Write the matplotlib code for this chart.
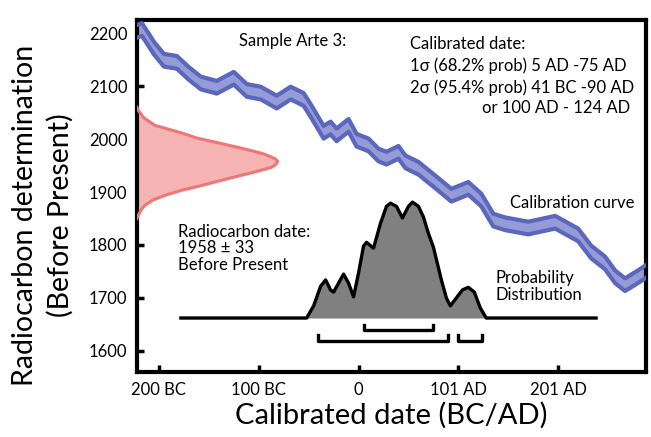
import numpy as np
import matplotlib
matplotlib.use("Agg")
import matplotlib.pyplot as plt

plt.rcParams['font.family'] = ['Lato', 'DejaVu Sans']

# calibration curve (calendar year, BP)
calib_x = [-223, -217, -205, -195, -182, -170, -158, -142, -125, -112, -98, -82,
           -68, -55, -47, -35, -28, -22, -10, -2, 10, 20, 28, 40, 47, 60, 77, 93,
           110, 123, 135, 147, 170, 197, 220, 233, 247, 257, 267, 280, 288]
calib_y = [2203, 2207, 2172, 2149, 2145, 2124, 2106, 2098, 2115, 2092, 2087, 2070,
           2087, 2075, 2051, 2013, 2021, 2008, 2026, 1998, 1989, 1970, 1964, 1975,
           1957, 1945, 1919, 1894, 1907, 1885, 1847, 1840, 1832, 1843, 1819, 1787,
           1766, 1740, 1725, 1740, 1750]
calib_err = 12

# radiocarbon date distribution (BP value, width in years from the axis)
rc_y = [2060, 2055, 2040, 2026, 2011, 2002, 1994, 1985, 1979, 1972, 1966, 1962,
        1958, 1952, 1947, 1943, 1936, 1930, 1919, 1912, 1904, 1895, 1885, 1875,
        1866, 1855, 1850]
rc_w = [0, 1, 7, 18, 46, 60, 79, 100, 113, 127, 135, 139,
        141, 139, 135, 128, 114, 101, 78, 64, 46, 30, 16, 8,
        4, 1, 0]

# calibrated probability distribution (year, height above baseline)
prob_x = [-178, -52, -45, -38, -33, -28, -25, -15, -10, -5, 0, 5, 8, 15, 22, 28,
          32, 38, 44, 50, 54, 60, 65, 70, 75, 83, 88, 92, 98, 104, 110, 116, 122,
          128, 238]
prob_h = [0, 0, 23, 60, 72, 53, 49, 83, 66, 40, 85, 136, 143, 132, 179, 211,
          217, 211, 189, 211, 219, 211, 191, 160, 134, 72, 38, 23, 38, 53, 58,
          49, 19, 0, 0]
prob_base = 1662

one_sigma = [(5, 75)]
two_sigma = [(-41, 90), (100, 124)]

xticks = [-200, -100, 0, 100, 200]
xticklabels = ["200 BC", "100 BC", "0", "101 AD", "201 AD"]
yticks = [1600, 1700, 1800, 1900, 2000, 2100, 2200]

fig = plt.figure(figsize=(6.51, 4.37), dpi=100)
ax = fig.add_axes([0.2104, 0.1487, 0.9923 - 0.2104, 0.9542 - 0.1487])
ax.set_xlim(-222, 288)
ax.set_ylim(1560, 2225)

# calibration band
cx = np.array(calib_x)
cy = np.array(calib_y)
ax.fill_between(cx, cy - calib_err, cy + calib_err, color="#959bd6", lw=0, zorder=2)
ax.plot(cx, cy + calib_err, color="#5b66bd", lw=3, solid_joinstyle="round", zorder=3)
ax.plot(cx, cy - calib_err, color="#5b66bd", lw=3, solid_joinstyle="round", zorder=3)

# radiocarbon gaussian on the left
x0 = -222
rw = x0 + np.array(rc_w)
ax.fill_betweenx(rc_y, x0, rw, color="#f6b3b3", lw=0, zorder=2)
ax.plot(rw, rc_y, color="#f07575", lw=2.2, zorder=3)

# probability distribution
px = np.array(prob_x)
py = prob_base + np.array(prob_h)
ax.fill_between(px, prob_base, py, color="#808080", lw=0, zorder=4)
ax.plot(px, py, color="black", lw=2.4, solid_joinstyle="round", zorder=5)

# sigma ranges
for a, b in one_sigma:
    ax.plot([a, a, b, b], [1648, 1640, 1640, 1648], color="black", lw=2.4, zorder=5)
for a, b in two_sigma:
    ax.plot([a, a, b, b], [1629, 1619, 1619, 1629], color="black", lw=2.4, zorder=5)

ax.set_xticks(xticks)
ax.set_xticklabels(xticklabels)
ax.set_yticks(yticks)
ax.tick_params(direction="in", length=5, width=2.5, labelsize=12, pad=7)
for s in ax.spines.values():
    s.set_linewidth(3)

fs = 12
ax.text(-120, 2186, "Sample Arte 3:", fontsize=fs, va="center")
ax.text(52, 2180, "Calibrated date:", fontsize=fs, va="center")
ax.text(52, 2139, "1σ (68.2% prob) 5 AD -75 AD", fontsize=fs, va="center")
ax.text(52, 2097, "2σ (95.4% prob) 41 BC -90 AD", fontsize=fs, va="center")
ax.text(272, 2058, "or 100 AD - 124 AD", fontsize=fs, va="center", ha="right")
ax.text(152, 1880, "Calibration curve", fontsize=fs, va="center")
ax.text(-181, 1840, "Radiocarbon date:\n1958 ± 33\nBefore Present", fontsize=fs,
        va="top", linespacing=1.05)
ax.text(137, 1722, "Probability\nDistribution", fontsize=fs, va="center",
        linespacing=1.05)

ax.set_xlabel("Calibrated date (BC/AD)", fontsize=21, labelpad=3)
fig.text(25 / 651, 1 - 215 / 437, "Radiocarbon determination", rotation=90,
         fontsize=20.5, ha="center", va="center")
fig.text(60 / 651, 1 - 215 / 437, "(Before Present)", rotation=90,
         fontsize=20.5, ha="center", va="center")

fig.savefig("out.png", dpi=100)
